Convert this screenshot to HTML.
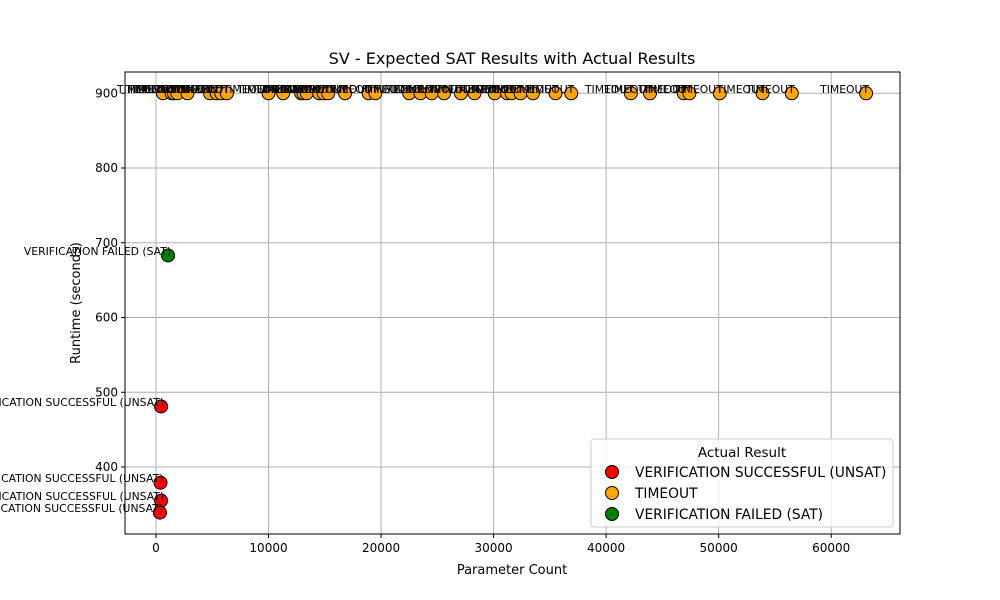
<!DOCTYPE html>
<html><head><meta charset="utf-8"><style>
body{margin:0;background:#fff;}
svg{display:block;font-family:"DejaVu Sans","Liberation Sans",sans-serif;}
</style></head><body>
<svg id="chart" width="1000" height="600">
<rect x="0" y="0" width="1000" height="600" fill="#fff"/>
<text x="512" y="64" font-size="16" text-anchor="middle">SV - Expected SAT Results with Actual Results</text>
<g id="grid"></g>
<g id="axes"></g>
<g id="marks"></g>
<g id="labels"></g>
<text x="512" y="574" font-size="13" text-anchor="middle">Parameter Count</text>
<text transform="translate(80,303) rotate(-90)" font-size="13" text-anchor="middle">Runtime (seconds)</text>
<g id="legend">
<rect x="591" y="439" width="302" height="88" fill="#fff" fill-opacity="0.8" stroke="#ccc" rx="3"/>
<text x="742" y="457" font-size="13.5" text-anchor="middle">Actual Result</text>
<g><circle cx="612" cy="472" r="6.5" fill="red" stroke="#000"/><text x="635" y="477" font-size="13.8">VERIFICATION SUCCESSFUL (UNSAT)</text></g>
<g><circle cx="612" cy="493" r="6.5" fill="orange" stroke="#000"/><text x="635" y="498" font-size="13.8">TIMEOUT</text></g>
<g><circle cx="612" cy="514" r="6.5" fill="green" stroke="#000"/><text x="635" y="519" font-size="13.8">VERIFICATION FAILED (SAT)</text></g>
</g>
</svg>
<script>
const xTicks=[0,10000,20000,30000,40000,50000,60000];
const yTicks=[400,500,600,700,800,900];
const unsatX=[450,400,450,350];
const unsatY=[481,379,355,339];
const satX=[1070];
const satY=[683];
const timeoutX=[620,1400,1600,1900,2800,4800,5400,5800,6300,10000,11300,12900,13100,13400,14500,14900,15300,16800,18900,19500,22500,23500,24500,25600,27100,28300,30100,31200,31600,32400,33500,35500,36900,42200,43900,46900,47400,50100,53900,56500,63100];
const timeoutY=timeoutX.map(()=>900);
const L=125,R=900,T=72,B=534;
const X=v=>156+v*0.011253;
const Y=v=>467-(v-400)*0.7475;
const NS='http://www.w3.org/2000/svg';
function mk(tag,attrs,parent){const e=document.createElementNS(NS,tag);for(const k in attrs)e.setAttribute(k,attrs[k]);parent.appendChild(e);return e;}
const grid=document.getElementById('grid'),axes=document.getElementById('axes'),marks=document.getElementById('marks'),labels=document.getElementById('labels');
xTicks.forEach(t=>{const x=X(t);
const g=mk('line',{x1:x,x2:x,y1:T,y2:B,stroke:'#b0b0b0','stroke-width':1},grid);


mk('line',{x1:x,x2:x,y1:B,y2:B+4,stroke:'#000'},axes);
const tx=mk('text',{x:x,y:B+18,'font-size':12,'text-anchor':'middle'},axes);tx.textContent=t;

});
yTicks.forEach(t=>{const y=Y(t);
const g=mk('line',{x1:L,x2:R,y1:y,y2:y,stroke:'#b0b0b0','stroke-width':1},grid);


mk('line',{x1:L-4,x2:L,y1:y,y2:y,stroke:'#000'},axes);
const tx=mk('text',{x:L-7,y:y+4,'font-size':12,'text-anchor':'end'},axes);tx.textContent=t;

});
const fr=mk('rect',{x:L,y:T,width:R-L,height:B-T,fill:'none',stroke:'#000'},axes);


function series(xs,ys,color,label,name){xs.forEach((v,i)=>{
const c=mk('circle',{cx:X(v),cy:Y(ys[i]),r:6.5,fill:color,stroke:'#000'},marks);


const t=mk('text',{x:X(v)+3,y:Y(ys[i])-0.5,'font-size':10.8,'text-anchor':'end'},labels);t.textContent=label;

});}
series(timeoutX,timeoutY,'orange','TIMEOUT','timeout');
series(unsatX,unsatY,'red','VERIFICATION SUCCESSFUL (UNSAT)','unsat');
series(satX,satY,'green','VERIFICATION FAILED (SAT)','sat');
</script>
</body></html>
